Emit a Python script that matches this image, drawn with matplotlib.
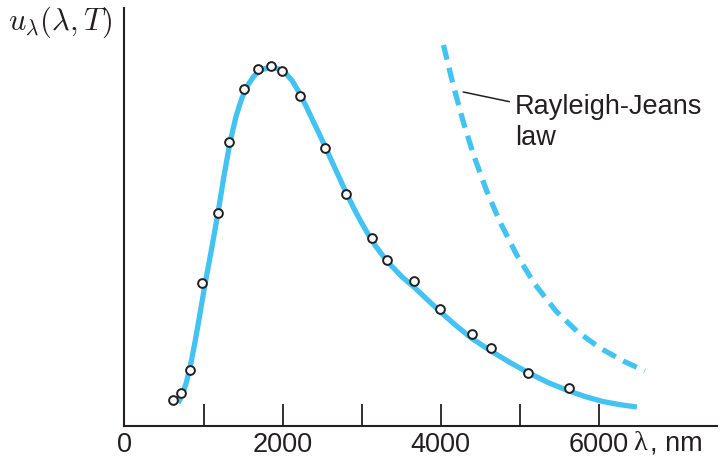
import numpy as np
import matplotlib
matplotlib.use("Agg")
import matplotlib.pyplot as plt

plt.rcParams['font.family'] = ['Liberation Sans', 'DejaVu Sans']
plt.rcParams['mathtext.fontset'] = 'cm'

ink = '#231f20'
blue = '#42c3f2'

# measured data points (wavelength nm, arbitrary energy density)
lam_pts = [617, 714, 828, 984, 1182, 1321, 1515, 1684, 1852, 1995, 2215,
           2535, 2796, 3129, 3315, 3660, 3992, 4397, 4630, 5097, 5616]
u_pts = [26, 33, 56, 143, 213, 284, 337, 357, 360, 355, 330,
         278, 232, 188, 166, 145, 117, 92, 78, 53, 38]

# Planck curve
lam_planck = [676, 727, 777, 828, 891, 954, 1018, 1106, 1182, 1258, 1334,
              1410, 1485, 1561, 1637, 1713, 1789, 1852, 1941, 2029, 2118,
              2206, 2295, 2383, 2472, 2560, 2649, 2737, 2826, 2914, 3003,
              3091, 3179, 3268, 3357, 3508, 3660, 3824, 3989, 4191, 4393,
              4633, 4874, 5101, 5354, 5620, 5834, 6049, 6264, 6479]
u_planck = [23, 30.5, 42, 58, 83.6, 112, 141.6, 179, 213, 250, 283.5,
            309.5, 328, 341, 350, 355.5, 357.7, 358.2, 357.2, 353.5, 345.5,
            334, 320, 305.3, 290.5, 275.3, 260, 244.7, 229.5, 215.5, 202.5,
            190.5, 179.5, 170.2, 161.7, 149.2, 139, 126.7, 114.5, 100.5, 87.5,
            75, 63.5, 53.5, 43.5, 35, 29.2, 24.5, 21.3, 19]

# Rayleigh-Jeans curve
lam_rj = [4033, 4159, 4286, 4412, 4579, 4747, 4958, 5190, 5455, 5717, 6011, 6306, 6580]
u_rj = [381, 340, 303.5, 271.5, 235.2, 204.2, 171.3, 141.7, 115, 95, 78, 65, 55]

fig = plt.figure(figsize=(7.22, 4.59), dpi=100)
ax = fig.add_axes([0.1724, 0.0719, 0.8206, 0.9107])

ax.plot(lam_planck, u_planck, color=blue, lw=3.8, solid_capstyle='butt',
        solid_joinstyle='round', zorder=2)
ax.plot(lam_rj, u_rj, color=blue, lw=3.8, dashes=(2.85, 1.6), zorder=2)
ax.plot(lam_pts, u_pts, 'o', ms=6.3, mfc='white', mec=ink, mew=1.4, zorder=3)

ax.annotate('Rayleigh-Jeans\nlaw', xy=(4283, 334), xytext=(4935, 332),
            fontsize=19.5, color=ink, va='top', ha='left', linespacing=1.25,
            arrowprops=dict(arrowstyle='-', color=ink, lw=1.1,
                            shrinkA=2, shrinkB=0))

ax.set_xlim(0, 7491)
ax.set_ylim(0, 418)
for s in ['top', 'right']:
    ax.spines[s].set_visible(False)
for s in ['left', 'bottom']:
    ax.spines[s].set_linewidth(1.5)
    ax.spines[s].set_color(ink)

ax.set_xticks([0, 1000, 2000, 3000, 4000, 5000, 6000])
ax.set_xticklabels(['0', '', '2000', '', '4000', '', '6000'])
ax.tick_params(axis='x', direction='in', length=15.5, width=1.3, colors=ink,
               labelsize=19.5, pad=4)
ax.xaxis.get_major_ticks()[0].tick1line.set_visible(False)
ax.set_yticks([])

fig.text(0.011, 1 - 22 / 459, r'$u_\lambda(\lambda, T)$', fontsize=22,
         color=ink, va='center', ha='left')
fig.text(633 / 722, 1 - 443 / 459, 'λ', fontsize=20.5, color=ink,
         va='center', ha='left', family=['Liberation Serif', 'DejaVu Serif'])
fig.text(650 / 722, 1 - 443 / 459, ', nm', fontsize=19.5, color=ink,
         va='center', ha='left')

fig.savefig('out.png', dpi=100)
